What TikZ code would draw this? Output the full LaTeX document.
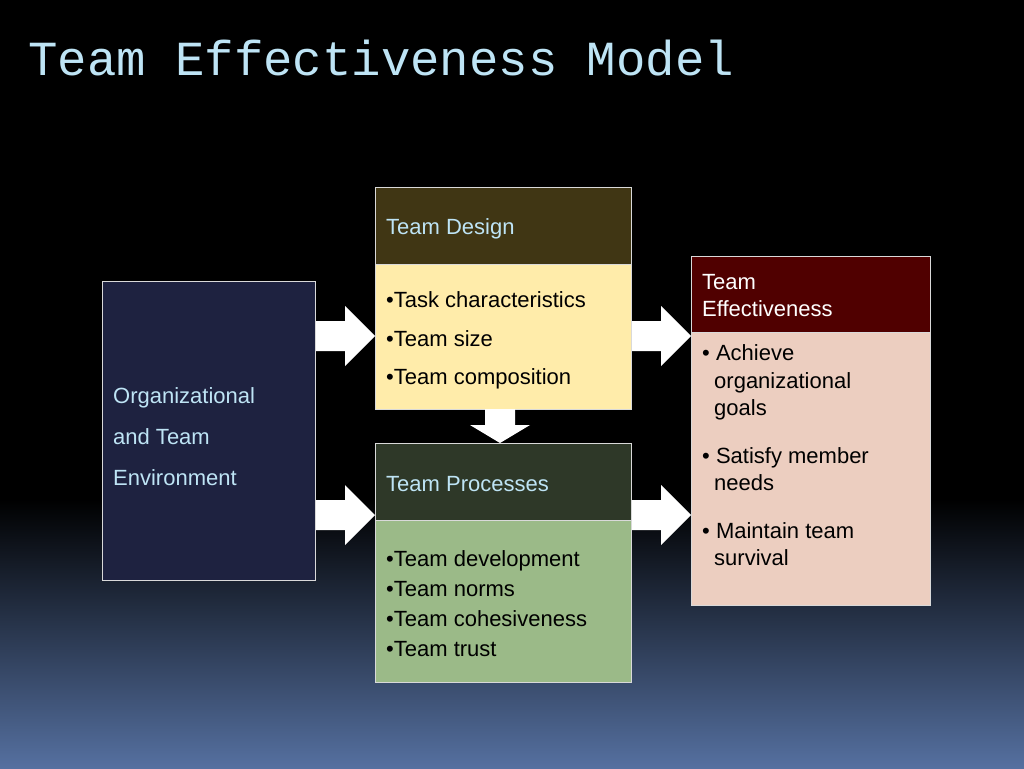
\documentclass[tikz,border=0pt]{standalone}
\usepackage{fontspec}
\setmainfont{Liberation Sans}
\newfontfamily\titlefont{Liberation Mono}

\definecolor{titleblue}{RGB}{190,228,245}
\definecolor{bgbottom}{RGB}{85,112,160}
\definecolor{envfill}{RGB}{30,34,64}
\definecolor{designhead}{RGB}{64,54,20}
\definecolor{designbody}{RGB}{255,236,170}
\definecolor{prochead}{RGB}{46,56,40}
\definecolor{procbody}{RGB}{155,186,136}
\definecolor{effhead}{RGB}{80,0,0}
\definecolor{effbody}{RGB}{236,206,192}

\tikzset{
  box/.style={draw=black!15, line width=0.8pt, anchor=north west, inner sep=0pt},
  txt/.style={anchor=base west, inner sep=0pt, font=\fontsize{22}{24}\selectfont},
  rightarrow/.pic={\fill[white] (0,-15)--(29,-15)--(29,-30)--(59,0)--(29,30)--(29,15)--(0,15)--cycle;},
  downarrow/.pic={\fill[white] (-15,0)--(-15,16)--(-30,16)--(0,34)--(30,16)--(15,16)--(15,0)--cycle;}
}

\begin{document}
\begin{tikzpicture}[x=1pt,y=-1pt]

% background
\fill[black] (0,0) rectangle (1024,500);
\shade[top color=black, bottom color=bgbottom] (0,499) rectangle (1024,768);
\useasboundingbox (0,0) rectangle (1024,768);

\node[anchor=base west, inner sep=0pt, text=titleblue, font=\titlefont\fontsize{49}{52}\selectfont]
  (title) at (28,75) {Team Effectiveness Model};

% organizational environment
\node[box, fill=envfill, minimum width=213pt, minimum height=299pt] (env) at (102,281) {};
\node[txt, text=titleblue] (env1) at (113,403) {Organizational};
\node[txt, text=titleblue] (env2) at (113,444) {and Team};
\node[txt, text=titleblue] (env3) at (113,485) {Environment};

% team design
\node[box, fill=designhead, minimum width=256pt, minimum height=77pt] (dhead) at (375,187) {};
\node[box, fill=designbody, minimum width=256pt, minimum height=145pt] (dbody) at (375,264) {};
\node[txt, text=titleblue] (dh) at (386,234) {Team Design};
\node[txt] (d1) at (386,307) {•Task characteristics};
\node[txt] (d2) at (386,346) {•Team size};
\node[txt] (d3) at (386,384) {•Team composition};

% team processes
\node[box, fill=prochead, minimum width=256pt, minimum height=77pt] (phead) at (375,443) {};
\node[box, fill=procbody, minimum width=256pt, minimum height=162pt] (pbody) at (375,520) {};
\node[txt, text=titleblue] (ph) at (386,491) {Team Processes};
\node[txt] (p1) at (386,566) {•Team development};
\node[txt] (p2) at (386,596) {•Team norms};
\node[txt] (p3) at (386,626) {•Team cohesiveness};
\node[txt] (p4) at (386,656) {•Team trust};

% team effectiveness
\node[box, fill=effhead, minimum width=239pt, minimum height=76pt] (ehead) at (691,256) {};
\node[box, fill=effbody, minimum width=239pt, minimum height=273pt] (ebody) at (691,332) {};
\node[txt, text=white] (eh1) at (702,289) {Team};
\node[txt, text=white] (eh2) at (702,316) {Effectiveness};
\node[txt] (e1) at (702,360) {• Achieve};
\node[txt] (e1b) at (714,388) {organizational};
\node[txt] (e1c) at (714,415) {goals};
\node[txt] (e2) at (702,463) {• Satisfy member};
\node[txt] (e2b) at (714,490) {needs};
\node[txt] (e3) at (702,538) {• Maintain team};
\node[txt] (e3b) at (714,565) {survival};

% arrows
\pic at (316,336) {rightarrow};
\pic at (316,515) {rightarrow};
\pic at (632,336) {rightarrow};
\pic at (632,515) {rightarrow};
\pic at (500,409) {downarrow};

\end{tikzpicture}
\end{document}
